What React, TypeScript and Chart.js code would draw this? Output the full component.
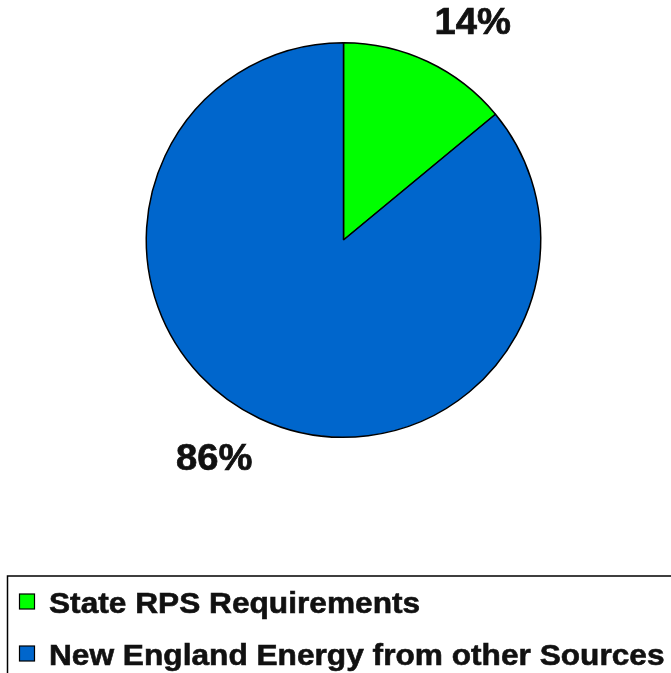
import React, { useEffect, useRef } from "react";
import { Chart, registerables } from "chart.js";

Chart.register(...registerables);

const categories = ["State RPS Requirements", "New England Energy from other Sources"];
const shares = [14, 86];
const percentLabels = ["14%", "86%"];
const colors = ["#00FF00", "#0066CC"];

const labelPlugin = {
  id: "customLabels",
  afterDraw(chart: any) {
    const ctx = chart.ctx as CanvasRenderingContext2D;
    const meta = chart.getDatasetMeta(0);
    ctx.save();
    ctx.fillStyle = "#111";
    ctx.strokeStyle = "#111";
    ctx.lineWidth = 0.7;
    ctx.textAlign = "center";
    ctx.textBaseline = "middle";
    ctx.font = "bold 36px 'Liberation Sans', Arial, sans-serif";
    meta.data.forEach((arc: any, i: number) => {
      const p = arc.getProps(["x", "y", "startAngle", "endAngle", "outerRadius"], true);
      const mid = (p.startAngle + p.endAngle) / 2 + (5.5 * Math.PI) / 180;
      const d = p.outerRadius + 56;
      const x = p.x + Math.cos(mid) * d;
      const y = p.y + Math.sin(mid) * d + 2;
      ctx.save();
      ctx.translate(x, y);
      ctx.scale(1.06, 1);
      ctx.fillText(percentLabels[i], 0, 0);
      ctx.strokeText(percentLabels[i], 0, 0);
      ctx.restore();
    });
    ctx.restore();

    // legend box
    ctx.save();
    ctx.strokeStyle = "#000";
    ctx.lineWidth = 1.5;
    ctx.beginPath();
    ctx.moveTo(7.5, 690);
    ctx.lineTo(7.5, 576);
    ctx.lineTo(690, 576);
    ctx.stroke();
    const rows = [613, 665];
    ctx.font = "bold 30px 'Liberation Sans', Arial, sans-serif";
    ctx.textAlign = "left";
    ctx.textBaseline = "alphabetic";
    categories.forEach((c, i) => {
      const base = rows[i];
      ctx.fillStyle = colors[i];
      ctx.fillRect(19.5, base - 19, 15, 15);
      ctx.lineWidth = 1.2;
      ctx.strokeStyle = "#000";
      ctx.strokeRect(19.5, base - 19, 15, 15);
      ctx.fillStyle = "#111";
      ctx.strokeStyle = "#111";
      ctx.lineWidth = 0.6;
      ctx.save();
      ctx.translate(49, base);
      ctx.scale(1.055, 1);
      ctx.fillText(c, 0, 0);
      ctx.strokeText(c, 0, 0);
      ctx.restore();
    });
    ctx.restore();
  },
};

export default function App() {
  const ref = useRef<HTMLCanvasElement>(null);
  useEffect(() => {
    document.body.style.margin = "0";
    const chart = new Chart(ref.current!, {
      type: "pie",
      data: {
        labels: categories,
        datasets: [
          {
            data: shares,
            backgroundColor: colors,
            borderColor: "#000",
            borderWidth: 1.5,
          },
        ],
      },
      options: {
        responsive: false,
        animation: false,
        layout: { padding: { left: 145, top: 42, right: 129, bottom: 235 } },
        plugins: { legend: { display: false }, tooltip: { enabled: false } },
      },
      plugins: [labelPlugin],
    });
    return () => chart.destroy();
  }, []);
  return (
    <div style={{ position: "absolute", left: 0, top: 0, width: 671, height: 673, background: "#fff" }}>
      <canvas ref={ref} width={671} height={673} />
    </div>
  );
}
